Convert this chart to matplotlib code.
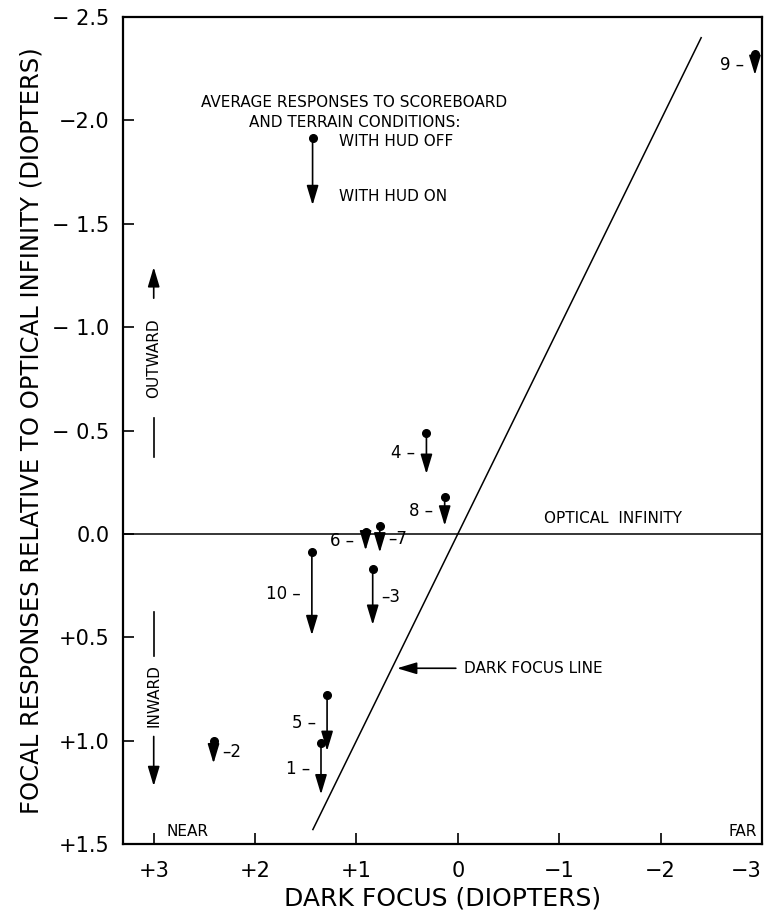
import numpy as np
import matplotlib
matplotlib.use('Agg')
import matplotlib.pyplot as plt

# subject numbers, dark focus (D) and focal responses (D rel. optical infinity)
subjects = ['1', '2', '3', '4', '5', '6', '7', '8', '9', '10']
dark_focus = [1.35, 2.41, 0.84, 0.31, 1.29, 0.91, 0.77, 0.13, -2.93, 1.44]
hud_off = [1.01, 1.00, 0.17, -0.49, 0.78, -0.01, -0.04, -0.18, -2.32, 0.09]
hud_on = [1.26, 1.11, 0.44, -0.29, 1.05, 0.08, 0.09, -0.04, -2.22, 0.49]
label_side = ['l', 'r', 'r', 'l', 'l', 'l', 'r', 'l', 'l', 'l']

x_ticks = [3, 2, 1, 0, -1, -2, -3]
x_ticklabels = ['+3', '+2', '+1', '0', '\u22121', '\u22122', '\u22123']
y_ticks = [-2.5, -2.0, -1.5, -1.0, -0.5, 0.0, 0.5, 1.0, 1.5]
y_ticklabels = ['\u2212 2.5', '\u22122.0', '\u2212 1.5', '\u2212 1.0', '\u2212 0.5',
                '0.0', '+0.5', '+1.0', '+1.5']
dark_line_x = [1.43, -2.4]

plt.rcParams['font.family'] = ['DejaVu Sans']
FS = 11

fig = plt.figure(figsize=(7.74, 9.15), dpi=100)
ax = fig.add_axes([0.1593, 0.0776, 0.8252, 0.9038])

ax.set_xlim(3.3, -3)
ax.set_ylim(1.5, -2.5)

for s in ax.spines.values():
    s.set_linewidth(1.6)

ax.set_xticks(x_ticks)
ax.set_xticklabels(x_ticklabels, fontsize=15)
ax.get_xticklabels()[-1].set_horizontalalignment('right')
ax.set_yticks(y_ticks)
ax.set_yticklabels(y_ticklabels, fontsize=15)
ax.tick_params(axis='both', direction='in', length=8, width=1.2,
               top=False, right=False)
ax.tick_params(axis='x', pad=12)
ax.tick_params(axis='y', pad=10)
ax.set_xlabel('DARK FOCUS (DIOPTERS)', fontsize=18, labelpad=4)
ax.set_ylabel('FOCAL RESPONSES RELATIVE TO OPTICAL INFINITY (DIOPTERS)',
              fontsize=17.5, labelpad=6)

# reference lines
ax.axhline(0, color='black', lw=1.1)
ax.plot(dark_line_x, dark_line_x, color='black', lw=1.1)
ax.text(-0.85, -0.04, 'OPTICAL  INFINITY', fontsize=FS, ha='left', va='bottom')

arrow_style = dict(arrowstyle='-|>,head_length=1.0,head_width=0.3',
                   color='black', lw=1.2, shrinkA=0, shrinkB=0,
                   mutation_scale=12)

for sid, x, y0, y1, side in zip(subjects, dark_focus, hud_off, hud_on, label_side):
    ax.annotate('', xy=(x, y1), xytext=(x, y0), arrowprops=arrow_style)
    ax.plot(x, y0, 'o', color='black', ms=5.5, zorder=5)
    ym = (y0 + y1) / 2
    if side == 'l':
        ax.annotate(sid + ' \u2013', (x, ym), xytext=(-8, 0),
                    textcoords='offset points', ha='right', va='center',
                    fontsize=12)
    else:
        ax.annotate('\u2013' + sid, (x, ym), xytext=(6, 0),
                    textcoords='offset points', ha='left', va='center',
                    fontsize=12)

# legend block
ax.text(1.02, -2.04, 'AVERAGE RESPONSES TO SCOREBOARD\nAND TERRAIN CONDITIONS:',
        fontsize=FS, ha='center', va='center', linespacing=1.4)
ax.annotate('', xy=(1.433, -1.59), xytext=(1.433, -1.915), arrowprops=arrow_style)
ax.plot(1.433, -1.915, 'o', color='black', ms=5.5, zorder=5)
ax.text(1.17, -1.90, 'WITH HUD OFF', fontsize=FS, ha='left', va='center')
ax.text(1.17, -1.63, 'WITH HUD ON', fontsize=FS, ha='left', va='center')

# outward / inward
ax.annotate('', xy=(3.0, -1.29), xytext=(3.0, -1.14), arrowprops=arrow_style)
ax.plot([3.0, 3.0], [-0.56, -0.37], color='black', lw=1.2)
ax.text(3.0, -0.85, 'OUTWARD', rotation=90, fontsize=FS, ha='center', va='center')
ax.plot([3.0, 3.0], [0.38, 0.59], color='black', lw=1.2)
ax.annotate('', xy=(3.0, 1.22), xytext=(3.0, 0.98), arrowprops=arrow_style)
ax.text(3.0, 0.78, 'INWARD', rotation=90, fontsize=FS, ha='center', va='center')

# dark focus line pointer
ax.annotate('', xy=(0.6, 0.65), xytext=(0.02, 0.65), arrowprops=arrow_style)
ax.text(-0.06, 0.65, 'DARK FOCUS LINE', fontsize=FS, ha='left', va='center')

ax.text(2.67, 1.44, 'NEAR', fontsize=FS, ha='center', va='center')
ax.text(-2.95, 1.44, 'FAR', fontsize=FS, ha='right', va='center')

fig.savefig('out.png', dpi=100)
